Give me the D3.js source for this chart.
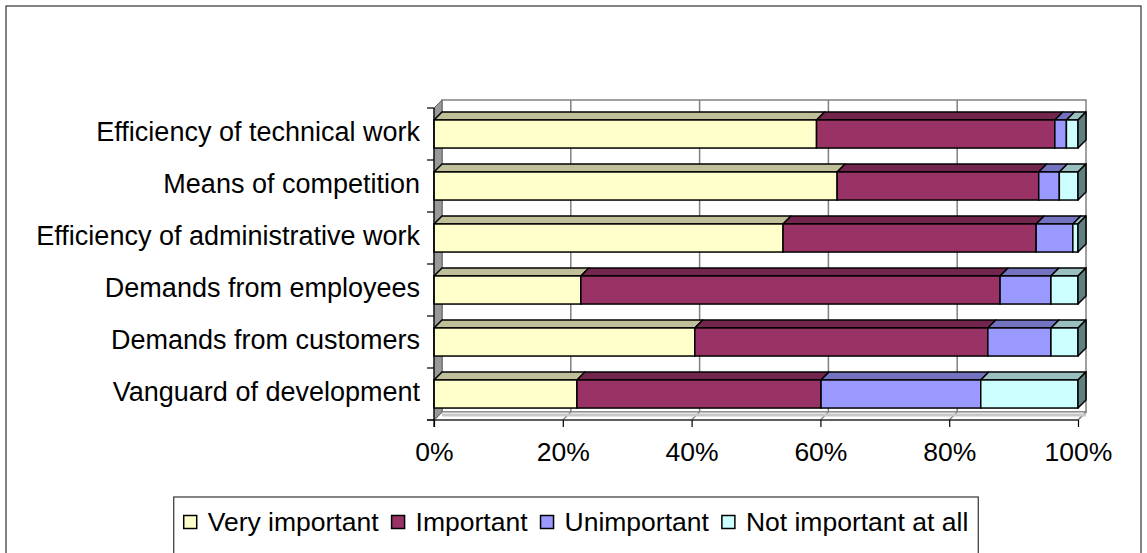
<!DOCTYPE html>
<html>
<head>
<meta charset="utf-8">
<script src="https://cdn.jsdelivr.net/npm/d3@7/dist/d3.min.js"></script>
<style>
  html, body { margin: 0; padding: 0; background: #ffffff; }
  svg { display: block; font-family: "Liberation Sans", Arial, sans-serif; }
</style>
</head>
<body>
<svg id="chart" width="1147" height="553"></svg>
<script>
// Reasons for adopting the technology, share of answers per importance level (%)
const categories = [
  "Efficiency of technical work",
  "Means of competition",
  "Efficiency of administrative work",
  "Demands from employees",
  "Demands from customers",
  "Vanguard of development"
];
const seriesNames = ["Very important", "Important", "Unimportant", "Not important at all"];
const veryImportant   = [59.4, 62.6, 54.2, 22.8, 40.5, 22.2];
const important       = [37.0, 31.3, 39.3, 65.1, 45.5, 37.9];
const unimportant     = [1.8, 3.2, 5.7, 7.9, 9.8, 24.8];
const notImportant    = [1.8, 2.9, 0.8, 4.2, 4.2, 15.1];
const tickValues      = [0, 20, 40, 60, 80, 100];
const colors = ["#FFFFCC", "#993366", "#9999FF", "#CCFFFF"];
const fontSize = 26.5;

const rows = categories.map((c, i) => {
  const vals = [veryImportant[i], important[i], unimportant[i], notImportant[i]];
  const total = d3.sum(vals);
  let acc = 0;
  const segs = vals.map((v, k) => {
    const p0 = acc / total * 100;
    acc += v;
    return { k, p0, p1: acc / total * 100 };
  });
  return { c, segs };
});

const svg = d3.select("#chart");

// outer chart border
svg.append("rect").attr("x", 6).attr("y", 6).attr("width", 1135).attr("height", 560)
  .attr("fill", "#fff").attr("stroke", "#333").attr("stroke-width", 1.2);

// 3D projection: depth offset of the walls and bars
const dx = 8, dy = -8;
const x = d3.scaleLinear().domain([0, 100]).range([434, 1078]);
const y = d3.scaleBand().domain(categories).range([108, 420])
  .paddingInner(0.46).paddingOuter(0.23);
const yTop = 108, yBot = 420;

const g = svg.append("g");

// back wall
g.append("rect")
  .attr("x", x(0) + dx).attr("y", yTop + dy)
  .attr("width", x(100) - x(0)).attr("height", yBot - yTop)
  .attr("fill", "#fff").attr("stroke", "#808080").attr("stroke-width", 1.5);

// gridlines on back wall
g.selectAll(".grid").data(tickValues.slice(1, -1)).join("line")
  .attr("x1", d => x(d) + dx).attr("x2", d => x(d) + dx)
  .attr("y1", yTop + dy).attr("y2", yBot + dy)
  .attr("stroke", "#808080").attr("stroke-width", 1.5);

// floor
g.append("path")
  .attr("d", `M${x(0)},${yBot}L${x(100)},${yBot}L${x(100) + dx},${yBot + dy}L${x(0) + dx},${yBot + dy}Z`)
  .attr("fill", "#fff").attr("stroke", "#808080").attr("stroke-width", 1.2);
g.selectAll(".floorgrid").data(tickValues.slice(1)).join("line")
  .attr("x1", d => x(d)).attr("y1", yBot)
  .attr("x2", d => x(d) + dx).attr("y2", yBot + dy)
  .attr("stroke", "#808080").attr("stroke-width", 1.2);
g.append("line")
  .attr("x1", x(0) + dx).attr("x2", x(100) + dx)
  .attr("y1", yBot + dy + 3).attr("y2", yBot + dy + 3)
  .attr("stroke", "#c8c8c8").attr("stroke-width", 3);

// left wall
g.append("path")
  .attr("d", `M${x(0)},${yTop}L${x(0) + dx},${yTop + dy}L${x(0) + dx},${yBot + dy}L${x(0)},${yBot}Z`)
  .attr("fill", "#999").attr("stroke", "#666").attr("stroke-width", 1);

// bars
const barG = g.append("g");
rows.forEach(r => {
  const y0 = y(r.c), h = y.bandwidth();
  const rg = barG.append("g");
  r.segs.forEach(s => {
    const base = d3.color(colors[s.k]);
    const top = d3.rgb(base.r * 0.75, base.g * 0.75, base.b * 0.75);
    // top face
    rg.append("path")
      .attr("d", `M${x(s.p0)},${y0}L${x(s.p0) + dx},${y0 + dy}L${x(s.p1) + dx},${y0 + dy}L${x(s.p1)},${y0}Z`)
      .attr("fill", top).attr("stroke", "#000").attr("stroke-width", 1.5).attr("stroke-linejoin", "round");
    // front face
    rg.append("rect")
      .attr("x", x(s.p0)).attr("y", y0)
      .attr("width", x(s.p1) - x(s.p0)).attr("height", h)
      .attr("fill", base).attr("stroke", "#000").attr("stroke-width", 1.5);
  });
  // end face of the last segment
  const last = r.segs[r.segs.length - 1];
  const b = d3.color(colors[last.k]);
  const side = d3.rgb(b.r * 0.47, b.g * 0.5, b.b * 0.5);
  rg.append("path")
    .attr("d", `M${x(last.p1)},${y0}L${x(last.p1) + dx},${y0 + dy}L${x(last.p1) + dx},${y0 + h + dy}L${x(last.p1)},${y0 + h}Z`)
    .attr("fill", side).attr("stroke", "#000").attr("stroke-width", 1.5).attr("stroke-linejoin", "round");
});

// category axis with ticks between categories
const bounds = categories.map(c => y(c) - y.step() * y.paddingInner() / 2).concat([yBot]);
g.append("line").attr("x1", x(0)).attr("x2", x(0)).attr("y1", yTop).attr("y2", yBot + 7)
  .attr("stroke", "#000").attr("stroke-width", 1.2);
g.selectAll(".ytick").data(bounds).join("line")
  .attr("x1", x(0) - 7).attr("x2", x(0)).attr("y1", d => d).attr("y2", d => d)
  .attr("stroke", "#000").attr("stroke-width", 1.2);
g.selectAll(".ylab").data(categories).join("text")
  .attr("x", 420).attr("y", d => y(d) + y.bandwidth() / 2 - 2)
  .attr("text-anchor", "end").attr("dominant-baseline", "central")
  .attr("font-size", 27).attr("fill", "#000")
  .text(d => d);

// value axis
const xAxis = d3.axisBottom(x).tickValues(tickValues).tickSize(7).tickPadding(15)
  .tickFormat(d => d + "%");
const ax = g.append("g").attr("transform", `translate(0,${yBot})`).call(xAxis);
ax.select(".domain").attr("stroke", "#000").attr("stroke-width", 1.2).attr("d", `M${x(0) - 7},0H${x(100)}`);
ax.selectAll(".tick line").attr("stroke", "#000").attr("stroke-width", 1.2);
ax.selectAll(".tick text").attr("font-size", fontSize).attr("fill", "#000")
  .attr("font-family", "Liberation Sans, Arial, sans-serif");

// legend: items laid out from measured text widths, centred in the chart area
const lg = svg.append("g");
const box = lg.append("rect").attr("y", 497).attr("height", 70)
  .attr("fill", "#fff").attr("stroke", "#333").attr("stroke-width", 1.2);
const items = seriesNames.map((n, k) => {
  const item = lg.append("g");
  item.append("rect").attr("x", 0).attr("y", -6.5).attr("width", 13).attr("height", 13)
    .attr("fill", colors[k]).attr("stroke", "#000").attr("stroke-width", 1.5);
  const t = item.append("text").attr("x", 24).attr("y", 0).attr("dominant-baseline", "central")
    .attr("font-size", fontSize).attr("fill", "#000").text(n);
  return { item, w: 24 + t.node().getComputedTextLength() };
});
const gap = 13, padX = 10;
const total = d3.sum(items, d => d.w) + gap * (items.length - 1);
const left = 576 - total / 2;
let cx = left;
items.forEach(d => {
  d.item.attr("transform", `translate(${cx},522)`);
  cx += d.w + gap;
});
box.attr("x", left - padX).attr("width", total + 2 * padX);
</script>
</body>
</html>
